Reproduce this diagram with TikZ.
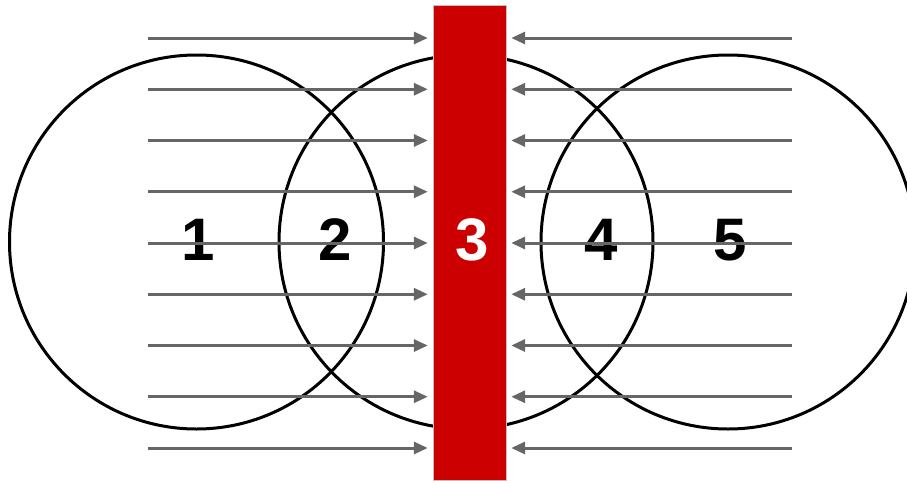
\documentclass[tikz,border=0pt]{standalone}
\usepackage{fontspec}
\setmainfont{Liberation Sans}
\usepackage{tikz}
\usetikzlibrary{arrows.meta, positioning, calc}
\usepackage{xcolor}
\definecolor{barred}{HTML}{CC0000}
\definecolor{flowgray}{HTML}{666666}

\begin{document}
\begin{tikzpicture}[
  x=1pt, y=-1pt,
  ring/.style  = {draw=black, circle, line width=3pt, minimum size=374pt, inner sep=0pt},
  wall/.style  = {fill=barred, draw=gray!50, line width=0.4pt, minimum width=73pt,
                  minimum height=475pt, inner sep=0pt},
  digit/.style = {font=\fontsize{60}{72}\selectfont\bfseries, inner sep=0pt, anchor=base},
  flow/.style  = {-{Triangle[length=14pt, width=12pt]}, line width=3pt, draw=flowgray,
                  shorten >=5pt},
]
\useasboundingbox (0,0) rectangle (907,482);

% ── Three overlapping circles ────────────────────────────────────────────────
\node[ring] (c1) at (196.5,242) {};
\node[ring] (c2) at (466,242)   {};
\node[ring] (c3) at (728,242)   {};

% ── Central wall ─────────────────────────────────────────────────────────────
\node[wall] (bar) at (469.5,242.5) {};

% ── Region labels ────────────────────────────────────────────────────────────
\node[digit]              (n1) at (198,260) {1};
\node[digit]              (n2) at (335,260) {2};
\node[digit, text=white]  (n3) at (472,260) {3};
\node[digit]              (n4) at (601,260) {4};
\node[digit]              (n5) at (730,260) {5};

% ── Arrows pushing in from both sides ───────────────────────────────────────
\foreach \i in {0,...,8} {
  \coordinate (l\i) at (148,38+51.25*\i);
  \coordinate (r\i) at (792,38+51.25*\i);
  \draw[flow] (l\i) -- (l\i -| bar.west);
  \draw[flow] (r\i) -- (r\i -| bar.east);
}
\end{tikzpicture}
\end{document}
